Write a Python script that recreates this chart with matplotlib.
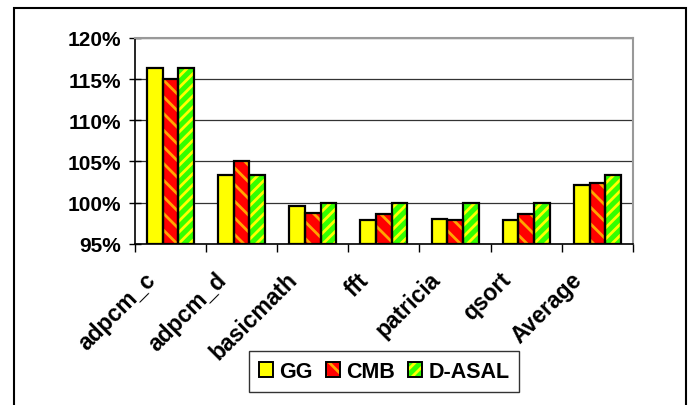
import numpy as np
import matplotlib.pyplot as plt
from matplotlib.patches import Rectangle, Patch
from matplotlib.legend_handler import HandlerTuple
from matplotlib.ticker import PercentFormatter

plt.rcParams['font.family'] = ['Liberation Sans', 'DejaVu Sans']
plt.rcParams['font.weight'] = 'bold'
plt.rcParams['hatch.linewidth'] = 2.0

benchmarks = ['adpcm_c', 'adpcm_d', 'basicmath', 'fft', 'patricia', 'qsort', 'Average']
gg = [116.3, 103.4, 99.55, 97.85, 98.05, 97.85, 102.1]
cmb = [115.0, 105.0, 98.7, 98.6, 97.85, 98.6, 102.4]
dasal = [116.3, 103.4, 100.0, 100.0, 100.0, 100.0, 103.4]

series = [
    # name, values, face, stripe colour, hatch
    ('GG', gg, '#ffff00', None, None),
    ('CMB', cmb, '#ff0000', '#ffa500', '\\\\'),
    ('D-ASAL', dasal, '#33ff00', '#ffff00', '///'),
]

fig = plt.figure(figsize=(6.88, 4.06), dpi=100)
ax = fig.add_axes([0.196, 0.397, 0.724, 0.507])

x = np.arange(len(benchmarks))
w = 0.22
handles = []
for i, (name, vals, face, stripe, hatch) in enumerate(series):
    pos = x + (i - 1) * w
    h = np.array(vals) / 100 - 0.95
    if hatch:
        ax.bar(pos, h, w, bottom=0.95, color=face, edgecolor=stripe,
               hatch=hatch, linewidth=0, zorder=3)
        fill = Patch(facecolor=face, edgecolor=stripe, hatch=hatch, linewidth=0)
    else:
        ax.bar(pos, h, w, bottom=0.95, color=face, linewidth=0, zorder=3)
        fill = Patch(facecolor=face, linewidth=0)
    ax.bar(pos, h, w, bottom=0.95, fill=False, edgecolor='black',
           linewidth=1.6, zorder=4)
    handles.append((fill, Patch(fill=False, edgecolor='black', linewidth=1.4)))

ax.set_ylim(0.95, 1.20)
ax.set_xlim(-0.5, len(benchmarks) - 0.5)
ax.set_yticks(np.arange(0.95, 1.2001, 0.05))
ax.yaxis.set_major_formatter(PercentFormatter(1.0, decimals=0))
ax.grid(axis='y', color='#333333', linewidth=0.9, zorder=0)

# major ticks mark the category borders; the slanted names sit on
# invisible minor ticks a little left of each category centre
ax.set_xticks(np.arange(-0.5, len(benchmarks)), minor=False)
ax.set_xticklabels([])
ax.set_xticks(x - 0.26, minor=True)
ax.set_xticklabels(benchmarks, minor=True, rotation=45, ha='right', va='center',
                   rotation_mode='anchor', fontsize=16.5, fontweight='bold')
ax.tick_params(axis='x', which='minor', length=0, pad=23)
ax.tick_params(axis='x', which='major', length=6, width=1, direction='out')
ax.tick_params(axis='y', length=8, width=1, direction='inout', labelsize=15, pad=6)
for lab in ax.get_yticklabels():
    lab.set_fontweight('bold')

ax.spines['left'].set_linewidth(1.2)
ax.spines['bottom'].set_linewidth(1.2)
for s in ('top', 'right'):
    ax.spines[s].set_color('#999999')
    ax.spines[s].set_linewidth(1.5)

leg = fig.legend(handles, [s[0] for s in series], loc='center',
                 bbox_to_anchor=(384 / 688, 1 - 372.5 / 406), ncol=3, frameon=True,
                 fancybox=False, shadow=False, edgecolor='black',
                 handler_map={tuple: HandlerTuple(ndivide=1)},
                 handlelength=0.65, handleheight=0.65, handletextpad=0.3,
                 columnspacing=0.6, borderpad=0.45, borderaxespad=0,
                 prop={'weight': 'bold', 'size': 15.5})
leg.get_frame().set_linewidth(1.0)

# outer chart border, running off the bottom edge
fig.patches.append(Rectangle((14 / 688, -0.05), (686 - 14) / 688, 1.05 - 9 / 406,
                             transform=fig.transFigure, fill=False,
                             edgecolor='black', linewidth=1.5))

fig.savefig('out.png', dpi=100)
